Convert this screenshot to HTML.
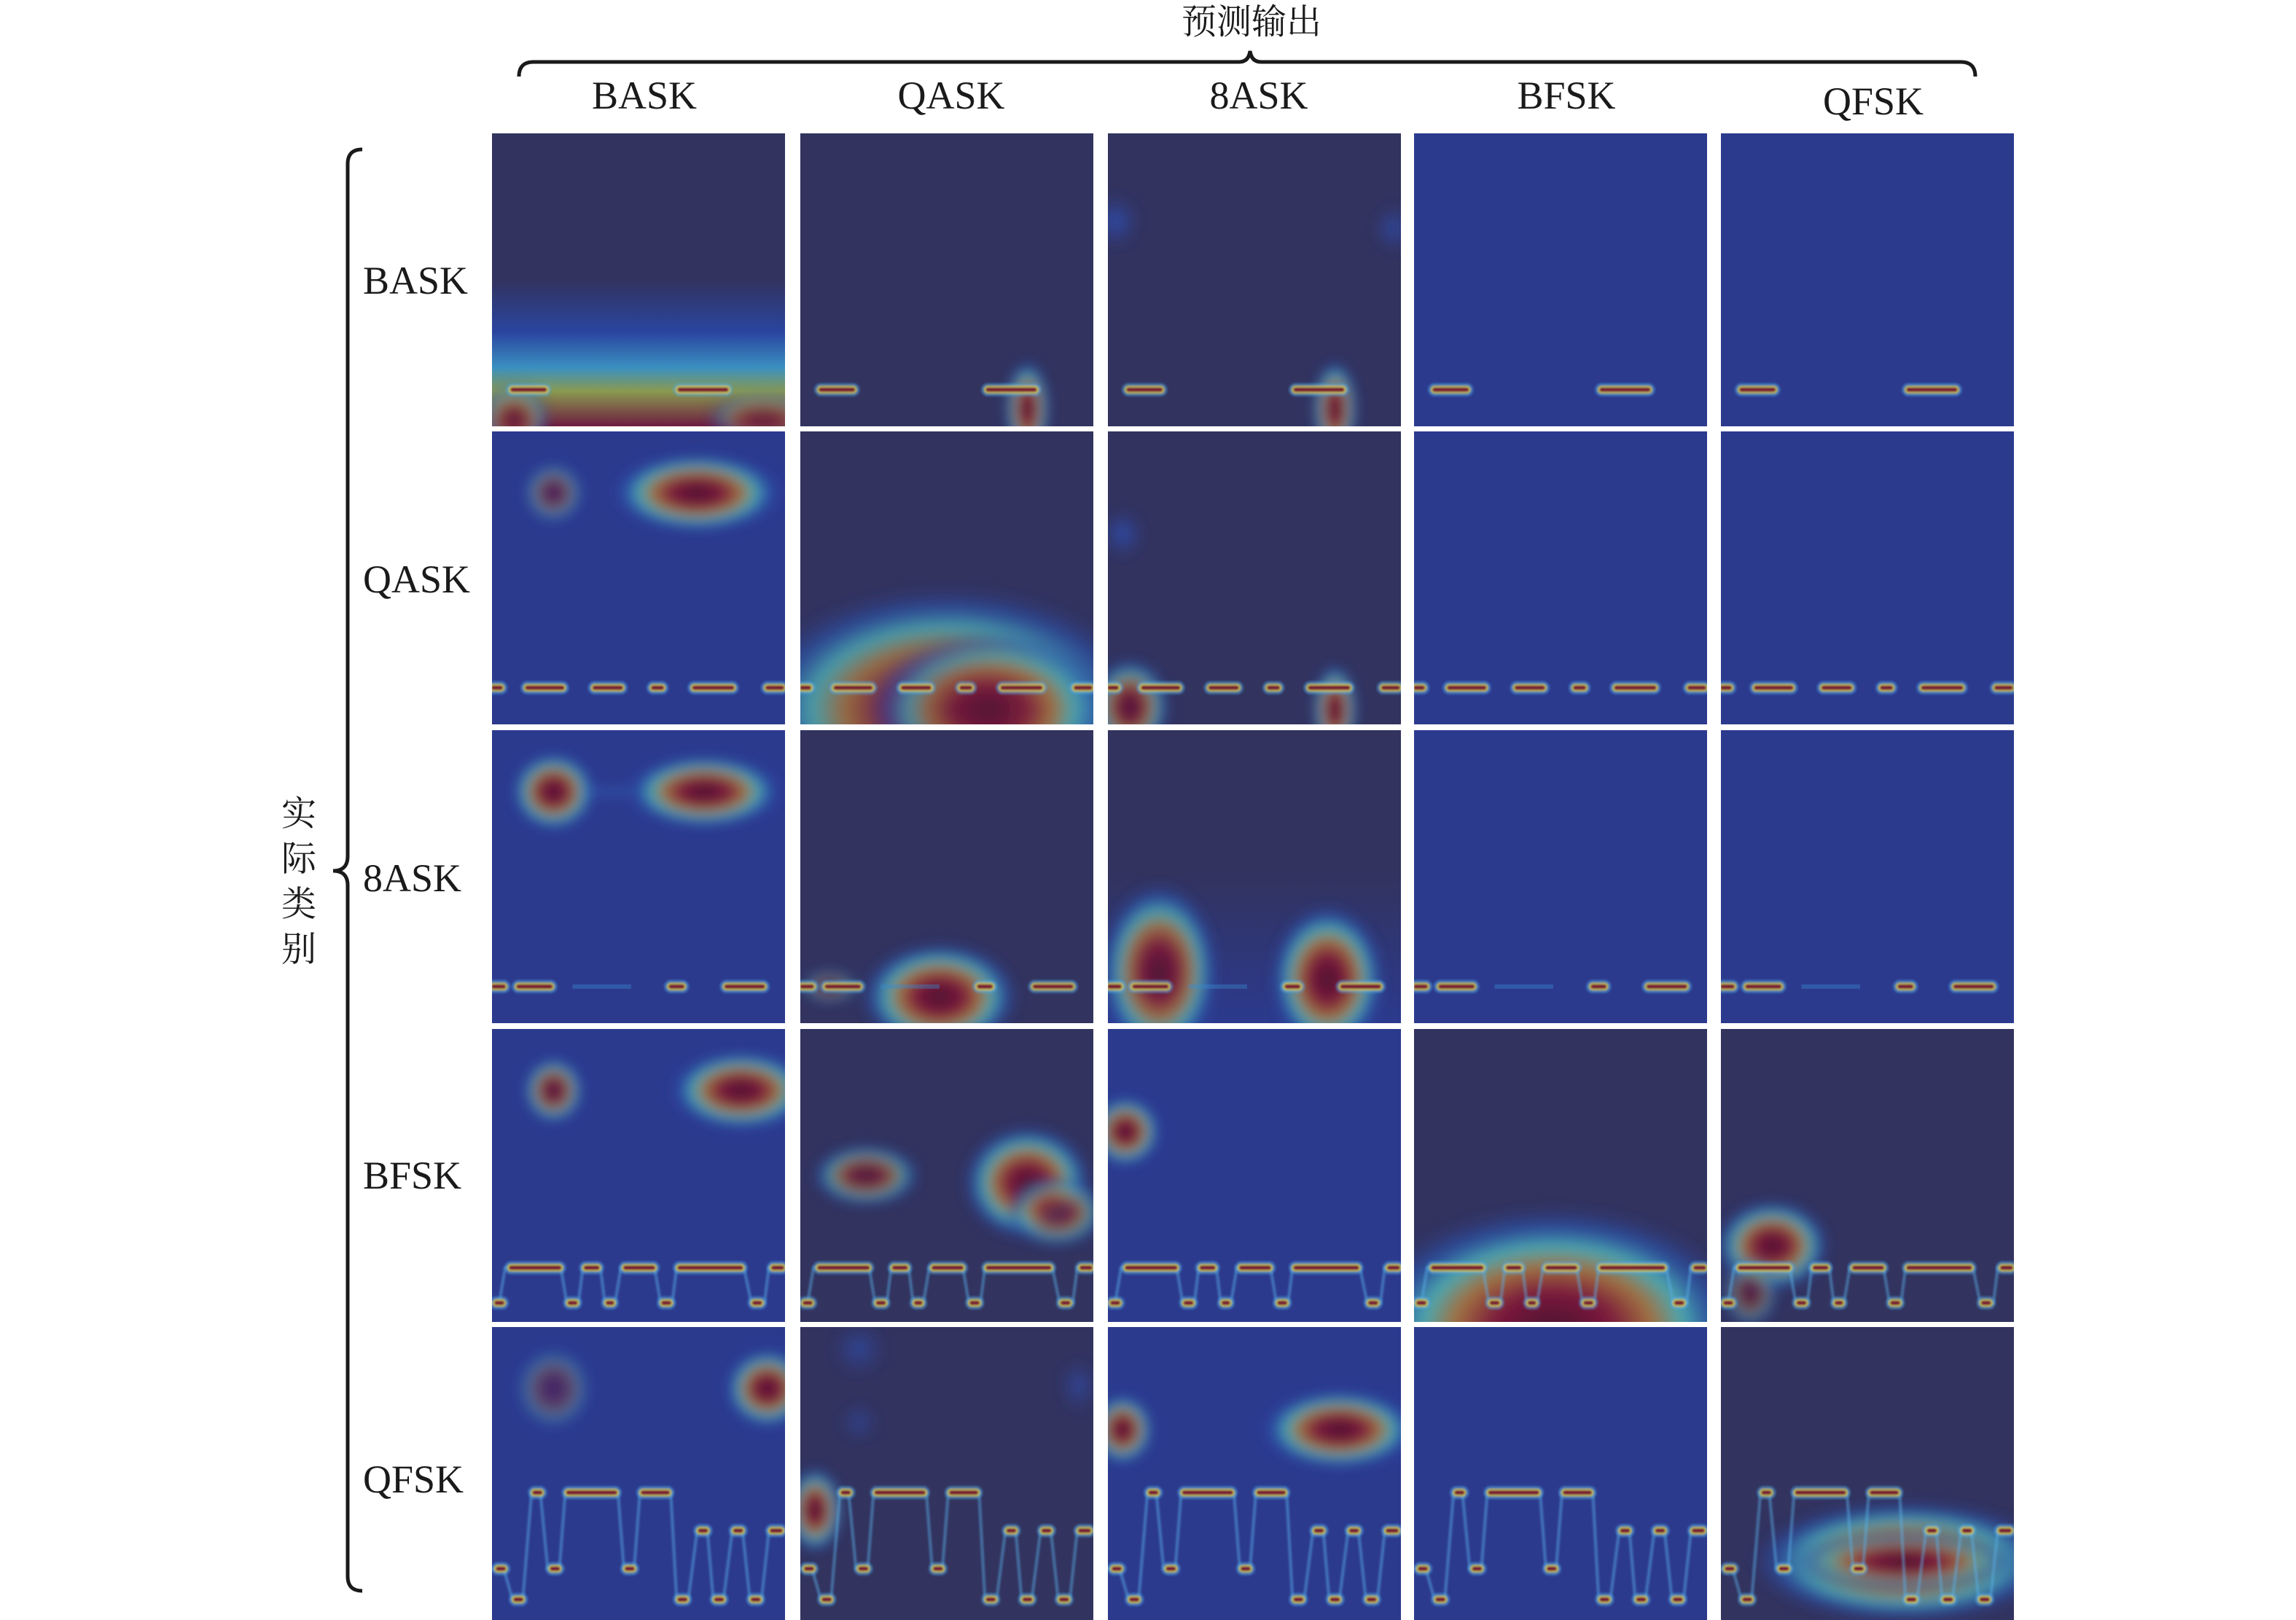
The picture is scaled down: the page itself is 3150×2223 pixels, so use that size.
<!DOCTYPE html>
<html><head><meta charset="utf-8">
<style>
html,body{margin:0;padding:0;background:#fff;}
body{width:3150px;height:2223px;position:relative;overflow:hidden;font-family:"Liberation Serif","Noto Serif CJK SC",serif;color:#1a1a1a;}
.t{position:absolute;font-size:54px;line-height:1;white-space:nowrap;transform:translate(-50%,-50%);}
.r{position:absolute;font-size:54px;line-height:1;white-space:nowrap;transform:translateY(-50%);left:498px;}
.cn{position:absolute;left:410px;font-size:48px;transform:translate(-50%,-50%);font-family:"Noto Serif CJK SC","Noto Sans CJK SC",serif;}
svg.cell{position:absolute;width:402px;height:402px;}
</style></head><body>
<div class="t" style="left:1717px;top:26px;font-family:'Noto Serif CJK SC','Noto Sans CJK SC',serif;font-size:48px;">预测输出</div>
<div class="t" style="left:884px;top:131px">BASK</div>
<div class="t" style="left:1305px;top:131px">QASK</div>
<div class="t" style="left:1727px;top:131px">8ASK</div>
<div class="t" style="left:2149px;top:131px">BFSK</div>
<div class="t" style="left:2570px;top:139px">QFSK</div>
<div class="r" style="top:385px">BASK</div>
<div class="r" style="top:795px">QASK</div>
<div class="r" style="top:1205px">8ASK</div>
<div class="r" style="top:1613px">BFSK</div>
<div class="r" style="top:2030px">QFSK</div>
<div class="cn" style="top:1112px">实</div>
<div class="cn" style="top:1174px">际</div>
<div class="cn" style="top:1236px">类</div>
<div class="cn" style="top:1298px">别</div>
<svg style="position:absolute;left:0;top:0" width="3150" height="2223">
<path d="M712 105 Q712 85 732 85 L1700 85 Q1713 85 1715 70 Q1717 85 1730 85 L2690 85 Q2710 85 2710 105" fill="none" stroke="#1a1a1a" stroke-width="5"/>
<path d="M497 205 Q477 205 477 225 L477 1175 Q477 1195 457 1195 Q477 1195 477 1215 L477 2163 Q477 2183 497 2183" fill="none" stroke="#1a1a1a" stroke-width="5"/>
</svg>
<div id="g"></div>
<script>
var L=[675,1098,1520,1940,2361],T=[183,592,1002,1412,1821];
var NAVY="#32335f",BLUE="#2c3a8e";
var defs='<defs><filter id="bl" filterUnits="userSpaceOnUse" x="-20" y="-20" width="240" height="240"><feGaussianBlur stdDeviation="4"/></filter><filter id="bs" filterUnits="userSpaceOnUse" x="-10" y="-10" width="220" height="220"><feGaussianBlur stdDeviation="0.6"/></filter><radialGradient id="hot"><stop offset="0" stop-color="#4a1530"/><stop offset="0.3" stop-color="#7c1a3c"/><stop offset="0.5" stop-color="#a07040"/><stop offset="0.66" stop-color="#4aa8b0"/><stop offset="0.82" stop-color="#2a55b0" stop-opacity="0.7"/><stop offset="1" stop-color="#2c3a8e" stop-opacity="0"/></radialGradient>'+
'<radialGradient id="cool"><stop offset="0" stop-color="#2f55c0"/><stop offset="1" stop-color="#2c3a8e" stop-opacity="0"/></radialGradient>'+
'<linearGradient id="b00" x1="0" y1="0" x2="0" y2="1"><stop offset="0.5" stop-color="#32335f"/><stop offset="0.68" stop-color="#2a45a0"/><stop offset="0.8" stop-color="#3a90c0"/><stop offset="0.88" stop-color="#8a9a50"/><stop offset="1" stop-color="#6e1c40"/></linearGradient>'+
'<linearGradient id="nb" x1="0" y1="0" x2="0" y2="1"><stop offset="0.5" stop-color="#32335f"/><stop offset="1" stop-color="#2c3a8e"/></linearGradient></defs>';
function E(x,y,rx,ry,o,g){return '<ellipse cx="'+x+'" cy="'+y+'" rx="'+rx+'" ry="'+ry+'" fill="url(#'+(g||'hot')+')" opacity="'+(o||1)+'"/>';}
function bars(segs,core){var s='';segs.forEach(function(a){var x1=a[0],x2=a[1],y=a[2];
 s+='<line x1="'+x1+'" y1="'+y+'" x2="'+x2+'" y2="'+y+'" stroke="#4aa8e0" stroke-width="9" stroke-linecap="round" opacity="0.5"/>';
 s+='<line x1="'+x1+'" y1="'+y+'" x2="'+x2+'" y2="'+y+'" stroke="#d8c848" stroke-width="5.5" stroke-linecap="round" opacity="0.85"/>';
 s+='<line x1="'+x1+'" y1="'+y+'" x2="'+x2+'" y2="'+y+'" stroke="'+(core||'#7a1535')+'" stroke-width="3" stroke-linecap="round"/>';});return '<g filter="url(#bs)">'+s+'</g>';}
function wave(pts){return '<polyline points="'+pts+'" fill="none" stroke="#5ab0e8" stroke-width="2.2" opacity="0.45" filter="url(#bs)"/>';}
var sig=[
 bars([[14,36,175],[128,160,175]]),
 bars([[1,6,175],[24,48,175],[70,88,175],[110,116,175],[138,164,175],[188,198,175]]),
 bars([[1,8,175],[18,40,175],[122,130,175],[160,185,175]])+'<line x1="55" y1="175" x2="95" y2="175" stroke="#3a8ad0" stroke-width="3" opacity="0.4"/>',
 wave('0,187 5,187 9,163 47,163 51,187 59,187 62,163 74,163 77,187 84,187 88,163 111,163 115,187 123,187 126,163 172,163 177,187 186,187 189,163 200,163')+bars([[13,46,163],[64,72,163],[91,110,163],[128,170,163],[192,198,163],[3,7,187],[53,57,187],[79,82,187],[117,121,187],[179,183,187]]),
 wave('0,165 8,165 14,186 21,186 27,113 33,113 38,165 46,165 50,113 86,113 90,165 97,165 101,113 122,113 126,186 134,186 140,139 147,139 151,186 158,186 164,139 171,139 176,186 184,186 189,139 200,139')+bars([[4,8,165],[16,20,186],[29,33,113],[52,84,113],[41,45,165],[92,96,165],[103,120,113],[128,132,186],[142,146,139],[153,157,186],[166,170,139],[178,182,186],[191,197,139]])
];
var cells=[
 ['url(#b00)',E(15,195,25,25,0.7)+E(185,195,40,20,0.5),0],
 [NAVY,E(155,188,16,34),0],
 [NAVY,E(5,60,18,20,0.8,'cool')+E(195,65,15,18,0.7,'cool')+E(155,188,16,34),0],
 [BLUE,'',0],[BLUE,'',0],
 [BLUE,E(42,42,22,22,0.6)+E(140,42,60,28),1],
 [NAVY,'<ellipse cx="100" cy="190" rx="140" ry="85" fill="url(#hot)" opacity="0.9"/>'+E(130,190,85,55,0.8),1],
 [NAVY,E(10,70,16,18,0.8,'cool')+E(15,188,28,34,0.9)+E(155,190,16,32),1],
 [BLUE,'',1],[BLUE,'',1],
 [BLUE,E(42,42,30,28)+E(145,42,55,26)+'<line x1="60" y1="42" x2="95" y2="42" stroke="#3a80d0" stroke-width="3" opacity="0.5"/>',2],
 [NAVY,E(95,182,55,38)+E(20,175,20,12,0.6),2],
 ['url(#nb)',E(35,165,42,62,0.95)+E(150,170,40,52),2],
 [BLUE,'',2],[BLUE,'',2],
 [BLUE,E(42,42,22,24,0.9)+E(170,42,50,28),3],
 [NAVY,E(45,100,38,22,0.8)+E(155,105,45,40)+E(175,125,35,25,0.8),3],
 [BLUE,E(12,70,25,25),3],
 [NAVY,'<ellipse cx="95" cy="205" rx="135" ry="85" fill="url(#hot)"/>',3],
 [NAVY,E(35,148,40,32)+E(20,180,20,25,0.6),3],
 [BLUE,E(42,42,28,30,0.45)+E(188,42,30,28),4],
 [NAVY,E(10,125,20,30)+E(40,15,20,20,0.6,'cool')+E(190,40,15,20,0.6,'cool')+E(40,65,15,15,0.5,'cool'),4],
 [BLUE,E(10,70,22,25)+E(158,70,55,28),4],
 [BLUE,'',4],
 [NAVY,'<ellipse cx="125" cy="160" rx="105" ry="42" fill="url(#hot)"/>'+E(125,160,80,22,0.8),4]
];
var h='';
for(var r=0;r<5;r++)for(var c=0;c<5;c++){var d=cells[r*5+c];
 var bg=(c>=3&&!(r==3&&c==3)&&!(r==3&&c==4)&&!(r==4&&c==4))?BLUE:d[0];
 h+='<svg class="cell" style="left:'+L[c]+'px;top:'+T[r]+'px" viewBox="0 0 200 200" preserveAspectRatio="none">'+defs+'<rect width="200" height="200" fill="'+bg+'"/><g filter="url(#bl)">'+d[1]+'</g>'+sig[d[2]]+'</svg>';}
document.getElementById('g').innerHTML=h;
</script>
</body></html>
